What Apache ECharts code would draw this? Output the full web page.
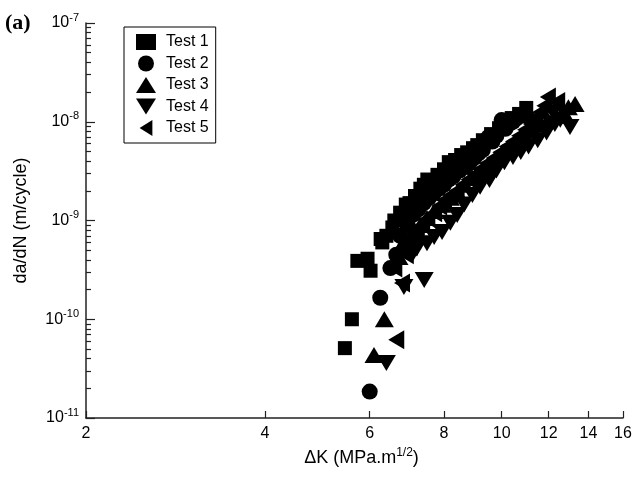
<!DOCTYPE html>
<html>
<head>
<meta charset="utf-8">
<script src="https://cdn.jsdelivr.net/npm/echarts@6/dist/echarts.min.js"></script>
<style>
  html, body { margin: 0; padding: 0; background: #fff; }
  #myDiv { width: 632px; height: 478px; }
</style>
</head>
<body>
<div id="myDiv"></div>
<script>
// ------------------------------------------------------
// Data  [deltaK (MPa.m^1/2), da/dN (m/cycle)]
// ------------------------------------------------------
var test1 = [
  [5.45, 5.1e-11], [5.6, 1.0e-10], [5.72, 3.9e-10], [5.95, 4.1e-10], [6.02, 3.1e-10],
  [6.26, 6.5e-10], [6.3, 6.0e-10], [6.4, 7.0e-10], [6.55, 8.5e-10], [6.6, 1.0e-9],
  [6.75, 1.2e-9], [6.9, 1.45e-9], [7.0, 1.5e-9], [7.15, 1.77e-9], [7.3, 2.1e-9],
  [7.4, 2.3e-9], [7.5, 2.6e-9], [7.65, 2.5e-9], [7.8, 2.9e-9], [8.0, 3.3e-9],
  [8.15, 3.9e-9], [8.35, 4.1e-9], [8.55, 4.6e-9], [8.75, 4.9e-9], [8.95, 5.4e-9],
  [9.1, 5.8e-9], [9.3, 6.5e-9], [9.6, 7.5e-9], [9.9, 8.6e-9], [10.1, 9.5e-9],
  [10.4, 1.09e-8], [10.7, 1.2e-8], [11.0, 1.38e-8]
]
var test2 = [
  [6.0, 1.85e-11], [6.25, 1.65e-10], [6.5, 3.3e-10], [6.65, 4.5e-10], [6.75, 7e-10],
  [6.85, 1.0e-9], [6.95, 9e-10], [7.1, 1.15e-9], [7.25, 1.3e-9], [7.4, 1.5e-9],
  [7.55, 1.7e-9], [7.7, 1.9e-9], [7.85, 2.1e-9], [8.0, 2.3e-9], [8.15, 2.6e-9],
  [8.3, 2.8e-9], [8.5, 3.2e-9], [8.7, 3.5e-9], [8.85, 3.9e-9], [9.0, 4.3e-9],
  [9.15, 4.8e-9], [9.3, 5.2e-9], [9.5, 7.0e-9], [9.65, 6.3e-9], [9.8, 7.2e-9],
  [10.0, 1.04e-8], [10.15, 8.5e-9], [10.3, 9.5e-9], [10.45, 1.0e-8], [10.6, 1.08e-8],
  [11.0, 1.15e-8]
]
var test3 = [
  [6.1, 4.35e-11], [6.35, 1.0e-10], [6.72, 4.27e-10], [6.8, 5.65e-10], [6.9, 6.5e-10],
  [7.12, 8.0e-10], [7.3, 9e-10], [7.49, 1.06e-9], [7.7, 1.25e-9], [7.94, 1.44e-9],
  [8.2, 1.7e-9], [8.42, 1.94e-9], [8.65, 2.3e-9], [8.93, 2.7e-9], [9.2, 3.1e-9],
  [9.47, 3.65e-9], [9.75, 4.2e-9], [10.03, 4.94e-9], [10.3, 5.6e-9], [10.64, 6.5e-9],
  [10.95, 7.3e-9], [11.28, 8.25e-9], [11.6, 9.3e-9], [11.96, 1.04e-8], [12.3, 1.15e-8],
  [12.7, 1.26e-8], [12.95, 1.4e-8], [13.29, 1.51e-8]
]
var test4 = [
  [6.4, 3.6e-11], [6.85, 2.12e-10], [7.41, 2.5e-10], [7.07, 4.5e-10], [7.2, 5.2e-10],
  [7.49, 5.9e-10], [7.7, 6.8e-10], [7.94, 7.65e-10], [8.2, 9.5e-10], [8.42, 1.14e-9],
  [8.65, 1.45e-9], [8.93, 1.81e-9], [9.2, 2.2e-9], [9.54, 2.57e-9], [9.8, 3.2e-9],
  [10.11, 3.9e-9], [10.45, 4.4e-9], [10.77, 4.94e-9], [11.1, 5.6e-9], [11.5, 6.5e-9],
  [11.9, 7.8e-9], [12.29, 9.5e-9], [12.55, 1.05e-8], [12.2, 1.25e-8], [12.8, 1.17e-8],
  [13.03, 8.85e-9]
]
var test5 = [
  [6.65, 6.2e-11], [6.8, 2.33e-10], [6.6, 3.3e-10], [6.9, 4.5e-10], [7.0, 5.5e-10],
  [7.1, 6.5e-10], [7.2, 7.8e-10], [7.35, 9e-10], [7.5, 1.05e-9], [7.7, 1.2e-9],
  [7.85, 1.4e-9], [8.0, 1.6e-9], [8.2, 1.8e-9], [8.4, 2.0e-9], [8.6, 2.3e-9],
  [8.8, 2.6e-9], [9.0, 2.9e-9], [9.2, 3.3e-9], [9.45, 3.8e-9], [9.7, 4.3e-9],
  [9.95, 4.9e-9], [10.2, 5.6e-9], [10.45, 6.3e-9], [10.7, 7.2e-9], [10.95, 8.3e-9],
  [11.2, 9.5e-9], [11.4, 1.1e-8], [11.6, 1.25e-8], [11.8, 1.45e-8], [11.96, 1.78e-8],
  [12.4, 1.6e-8]
]

// Axis ticks
var xTicks = [2, 4, 6, 8, 10, 12, 14, 16]
var yTicks = [1e-11, 1e-10, 1e-9, 1e-8, 1e-7]
var yMinorMult = [2, 3, 4, 5, 6, 7, 8, 9]

var FONT = 'Liberation Sans'

// triangle shapes (legend icons + markers)
var TRI_UP = 'path://M10,0L20,16L0,16Z'
var TRI_DOWN = 'path://M0,0L20,0L10,16Z'
var TRI_LEFT = 'path://M0,10L16,0L16,20Z'

// minor tick values (2..9 x each decade)
var yMinor = []
for (var i = 0; i < yTicks.length - 1; i++) {
  for (var j = 0; j < yMinorMult.length; j++) {
    yMinor.push(+(yTicks[i] * yMinorMult[j]).toPrecision(3))
  }
}

function makeSeries(name, data, symbol, size) {
  return {
    name: name,
    type: 'scatter',
    data: data,
    symbol: symbol,
    symbolSize: size,
    itemStyle: { color: '#000', opacity: 1 },
    emphasis: { disabled: true }
  }
}

var chart = echarts.init(document.getElementById('myDiv'))

var option = {
  animation: false,
  backgroundColor: '#fff',
  textStyle: { fontFamily: FONT },
  graphic: [{
    type: 'text',
    left: 5,
    top: 12,
    style: { text: '(a)', font: 'bold 22px "Liberation Serif"', fill: '#000' }
  }],
  legend: {
    orient: 'vertical',
    left: 124,
    top: 27,
    padding: [7, 7, 7, 12],
    itemWidth: 20,
    itemHeight: 16,
    itemGap: 5.5,
    borderColor: '#000',
    borderWidth: 1,
    textStyle: { fontFamily: FONT, fontSize: 16, color: '#000', lineHeight: 16, padding: [0, 0, 0, 5] },
    data: [
      { name: 'Test 1', icon: 'rect' },
      { name: 'Test 2', icon: 'circle' },
      { name: 'Test 3', icon: TRI_UP },
      { name: 'Test 4', icon: TRI_DOWN },
      { name: 'Test 5', icon: TRI_LEFT }
    ]
  },
  grid: { left: 86, right: 9, top: 23, bottom: 60, outerBoundsMode: 'none' },
  xAxis: {
    type: 'log',
    logBase: 10,
    min: 2,
    max: 16,
    name: '{a|ΔK (MPa.m}{s|1/2}{a|)}',
    nameLocation: 'middle',
    nameGap: 28,
    nameTextStyle: {
      padding: [0, 0, 0, 14],
      rich: {
        a: { fontFamily: FONT, fontSize: 18, color: '#000' },
        s: { fontFamily: FONT, fontSize: 12, color: '#000', verticalAlign: 'bottom', padding: [0, 0, 10, 0] }
      }
    },
    axisLine: { show: true, lineStyle: { color: '#222', width: 1.5 } },
    axisTick: { show: true, inside: true, length: 7, customValues: xTicks, lineStyle: { color: '#222', width: 1.2 } },
    minorTick: { show: false },
    splitLine: { show: false },
    axisLabel: {
      customValues: xTicks,
      margin: 8,
      fontFamily: FONT,
      fontSize: 16,
      color: '#000',
      formatter: function (v) { return String(Math.round(v)) }
    }
  },
  yAxis: [{
    type: 'log',
    logBase: 10,
    min: 1e-11,
    max: 1e-7,
    position: 'left',
    name: 'da/dN (m/cycle)',
    nameLocation: 'middle',
    nameGap: 56,
    nameTextStyle: { fontFamily: FONT, fontSize: 18, color: '#000' },
    axisLine: { show: true, lineStyle: { color: '#222', width: 1.5 } },
    axisTick: { show: true, inside: true, length: 9, customValues: yTicks, lineStyle: { color: '#222', width: 1.2 } },
    minorTick: { show: false },
    splitLine: { show: false },
    axisLabel: {
      customValues: yTicks,
      margin: 7,
      formatter: function (v) {
        return '{b|10}{s|' + Math.round(Math.log10(v)) + '}'
      },
      rich: {
        b: { fontFamily: FONT, fontSize: 16, color: '#000' },
        s: { fontFamily: FONT, fontSize: 11, color: '#000', verticalAlign: 'bottom', padding: [0, 0, 11, 0] }
      }
    }
  }, {
    type: 'log',
    logBase: 10,
    min: 1e-11,
    max: 1e-7,
    position: 'left',
    axisLine: { show: false },
    axisTick: { show: true, inside: true, length: 5, customValues: yMinor, lineStyle: { color: '#222', width: 1.2 } },
    axisLabel: { show: false },
    splitLine: { show: false },
    minorTick: { show: false }
  }],
  series: [
    makeSeries('Test 1', test1, 'rect', 14),
    makeSeries('Test 2', test2, 'circle', 16),
    makeSeries('Test 3', test3, TRI_UP, [19, 16]),
    makeSeries('Test 4', test4, TRI_DOWN, [19, 16]),
    makeSeries('Test 5', test5, TRI_LEFT, [16, 19])
  ]
}

chart.setOption(option)
</script>
</body>
</html>
